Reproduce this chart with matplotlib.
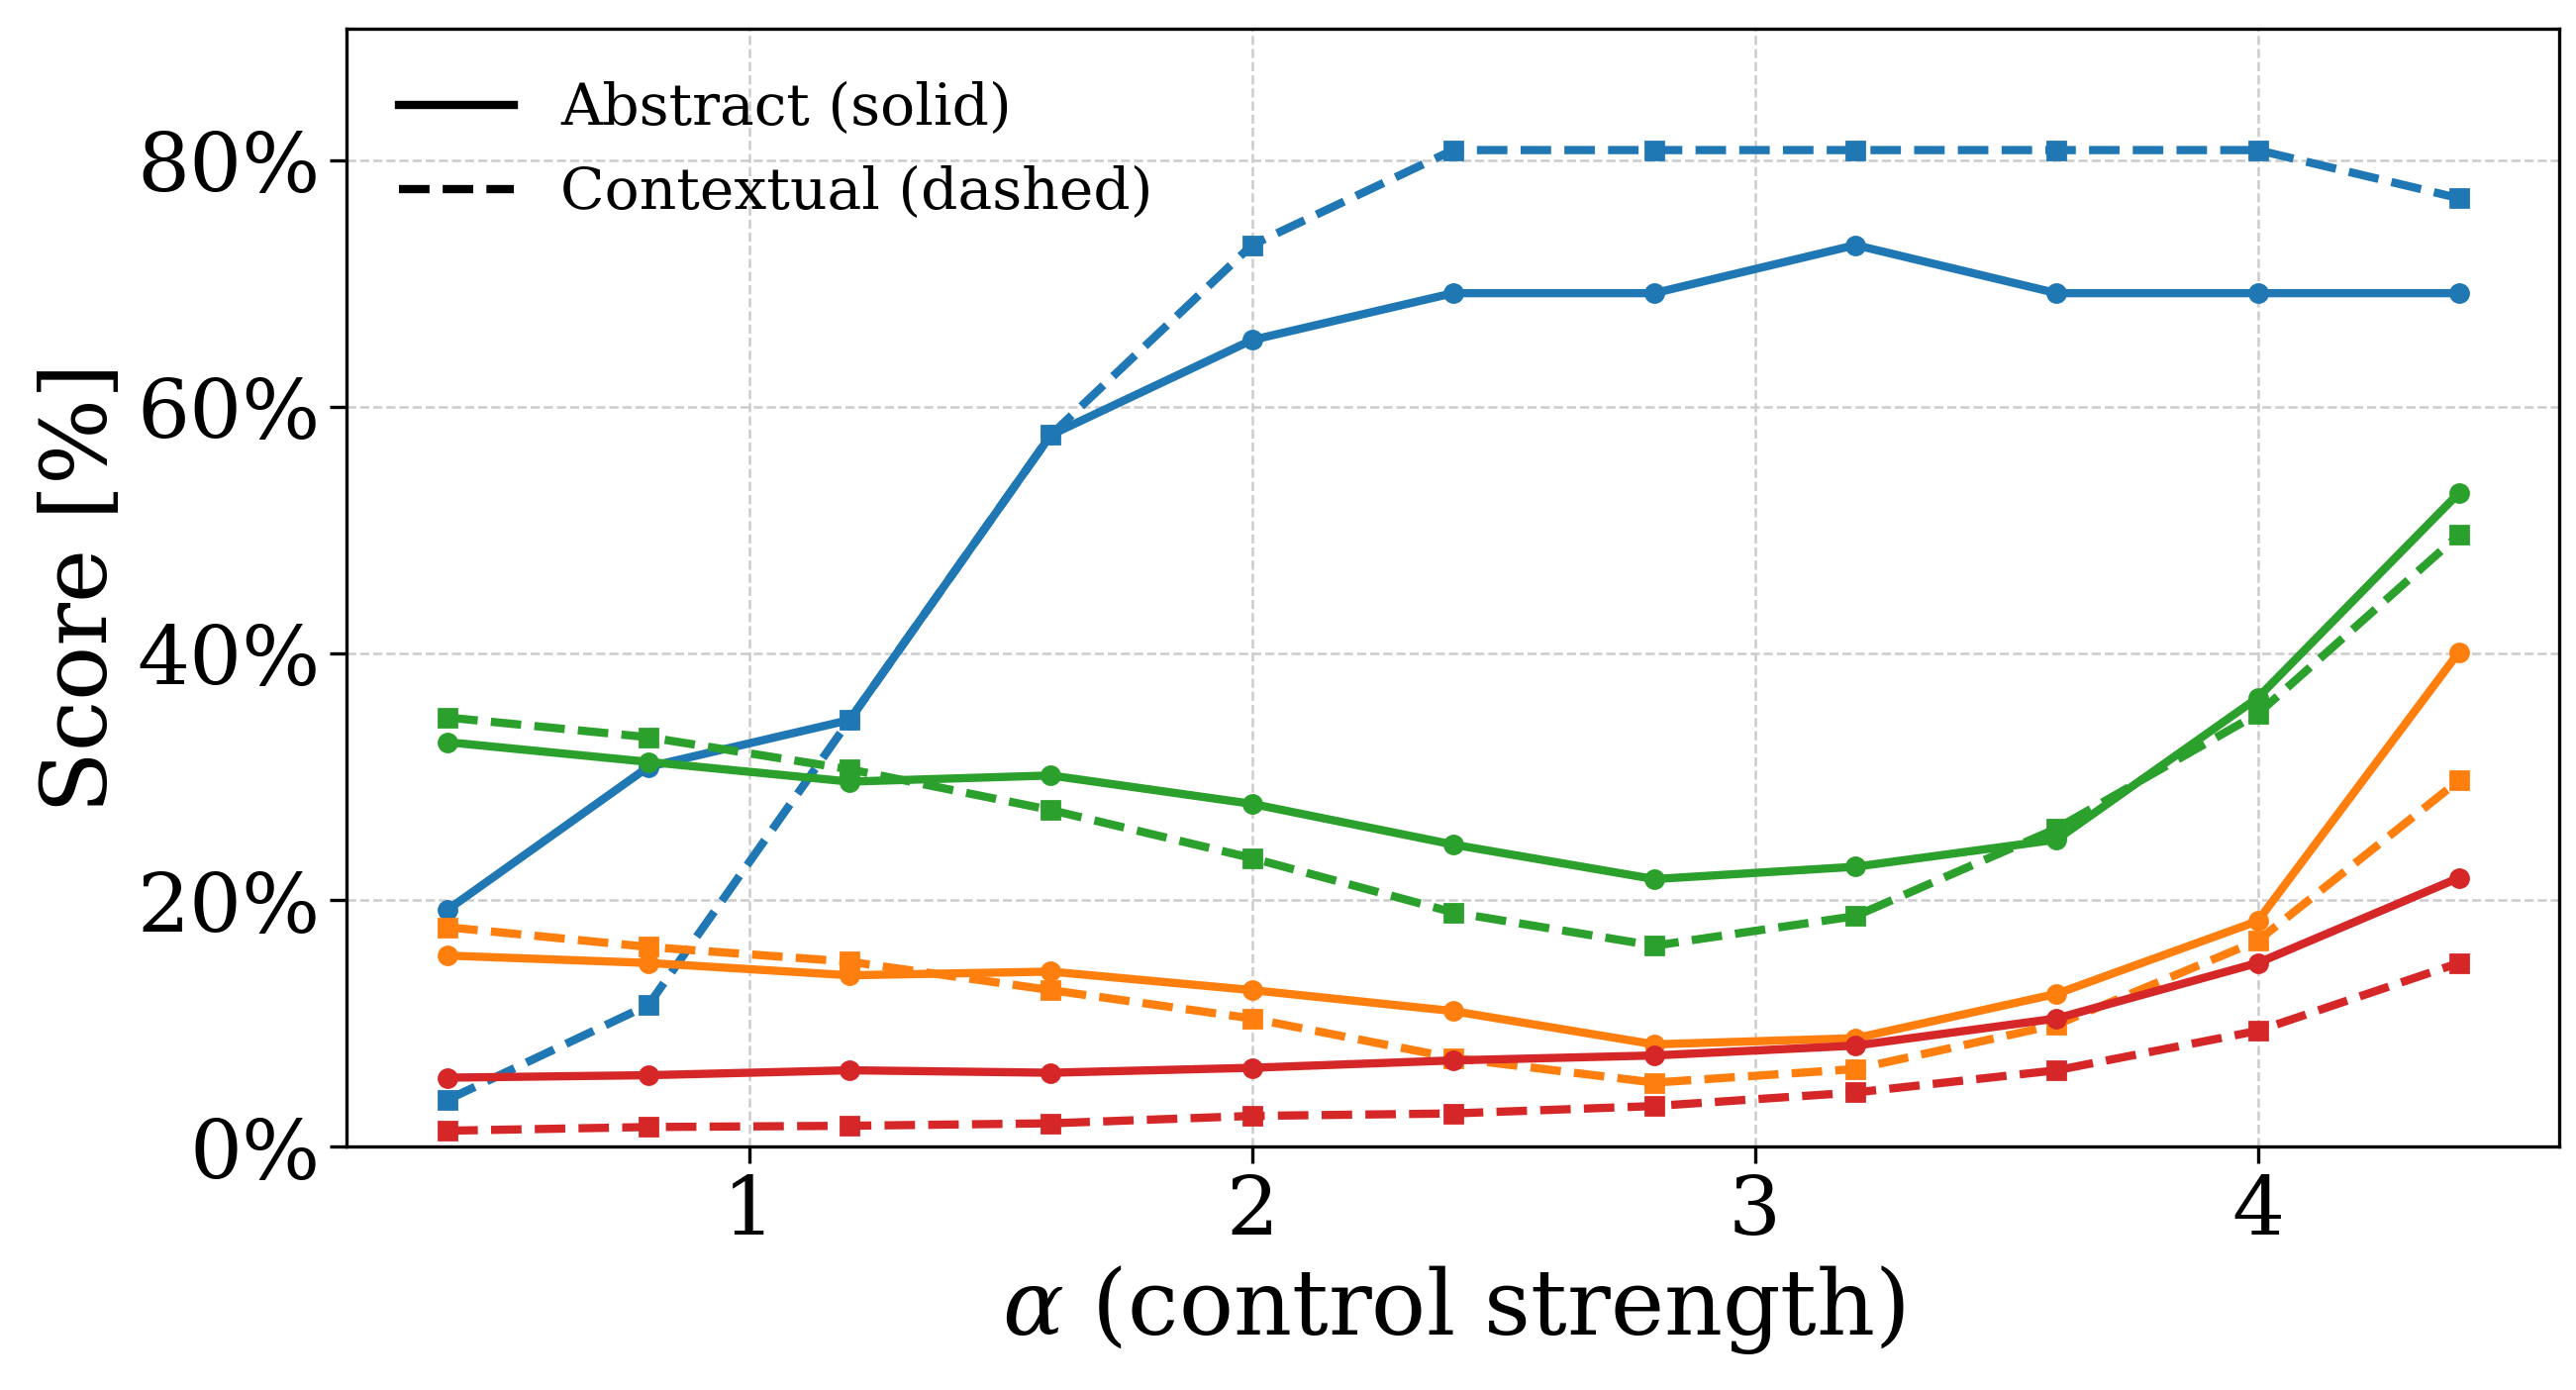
import matplotlib
matplotlib.use("Agg")
import matplotlib.pyplot as plt
from matplotlib.lines import Line2D
from matplotlib.ticker import FuncFormatter

plt.rcParams['font.family'] = ['DejaVu Serif']
plt.rcParams['mathtext.fontset'] = 'dejavuserif'

# control strength values
alpha = [0.4, 0.8, 1.2, 1.6, 2.0, 2.4, 2.8, 3.2, 3.6, 4.0, 4.4]

# abstract (solid) scores, %
blue_abs = [19.2, 30.8, 34.6, 57.7, 65.4, 69.2, 69.2, 73.1, 69.2, 69.2, 69.2]
green_abs = [32.8, 31.2, 29.6, 30.1, 27.8, 24.5, 21.7, 22.7, 24.9, 36.4, 53.0]
orange_abs = [15.5, 14.9, 13.9, 14.2, 12.7, 11.0, 8.3, 8.8, 12.4, 18.3, 40.1]
red_abs = [5.6, 5.8, 6.2, 6.0, 6.4, 7.0, 7.4, 8.2, 10.4, 14.9, 21.8]

# contextual (dashed) scores, %
blue_ctx = [3.8, 11.5, 34.6, 57.7, 73.1, 80.8, 80.8, 80.8, 80.8, 80.8, 76.9]
green_ctx = [34.8, 33.2, 30.6, 27.3, 23.4, 19.0, 16.3, 18.7, 25.8, 35.1, 49.6]
orange_ctx = [17.8, 16.2, 15.0, 12.7, 10.4, 7.2, 5.2, 6.3, 9.9, 16.7, 29.7]
red_ctx = [1.3, 1.6, 1.7, 1.9, 2.5, 2.7, 3.3, 4.4, 6.2, 9.4, 14.9]

colors = ['#1f77b4', '#2ca02c', '#ff7f0e', '#d62728']
abstract = [blue_abs, green_abs, orange_abs, red_abs]
contextual = [blue_ctx, green_ctx, orange_ctx, red_ctx]

fig, ax = plt.subplots(figsize=(13.01, 7.02), dpi=200)
fig.subplots_adjust(left=0.1346, right=0.9936, top=0.979, bottom=0.175)

for c, ya, yc in zip(colors, abstract, contextual):
    ax.plot(alpha, ya, color=c, linestyle='-', marker='o', linewidth=3, markersize=6.5)
    ax.plot(alpha, yc, color=c, linestyle='--', marker='s', linewidth=3, markersize=6.5)

ax.set_xlim(0.2, 4.6)
ax.set_ylim(0, 90.6)
ax.set_xticks([1, 2, 3, 4])
ax.set_yticks([0, 20, 40, 60, 80])
ax.yaxis.set_major_formatter(FuncFormatter(lambda v, p: f"{v:.0f}%"))
ax.tick_params(labelsize=30, length=6, width=1.2)
for s in ax.spines.values():
    s.set_linewidth(1.2)

ax.grid(True, linestyle='--', color='#cccccc', linewidth=0.9)
ax.set_axisbelow(True)

ax.set_xlabel(r'$\alpha$ (control strength)', fontsize=33)
ax.set_ylabel('Score [%]', fontsize=33)

handles = [
    Line2D([0], [0], color='black', linestyle='-', linewidth=3),
    Line2D([0], [0], color='black', linestyle='--', linewidth=3),
]
ax.legend(handles, ['Abstract (solid)', 'Contextual (dashed)'],
          loc='upper left', frameon=False, fontsize=21)

fig.savefig('out.png', dpi=200)
